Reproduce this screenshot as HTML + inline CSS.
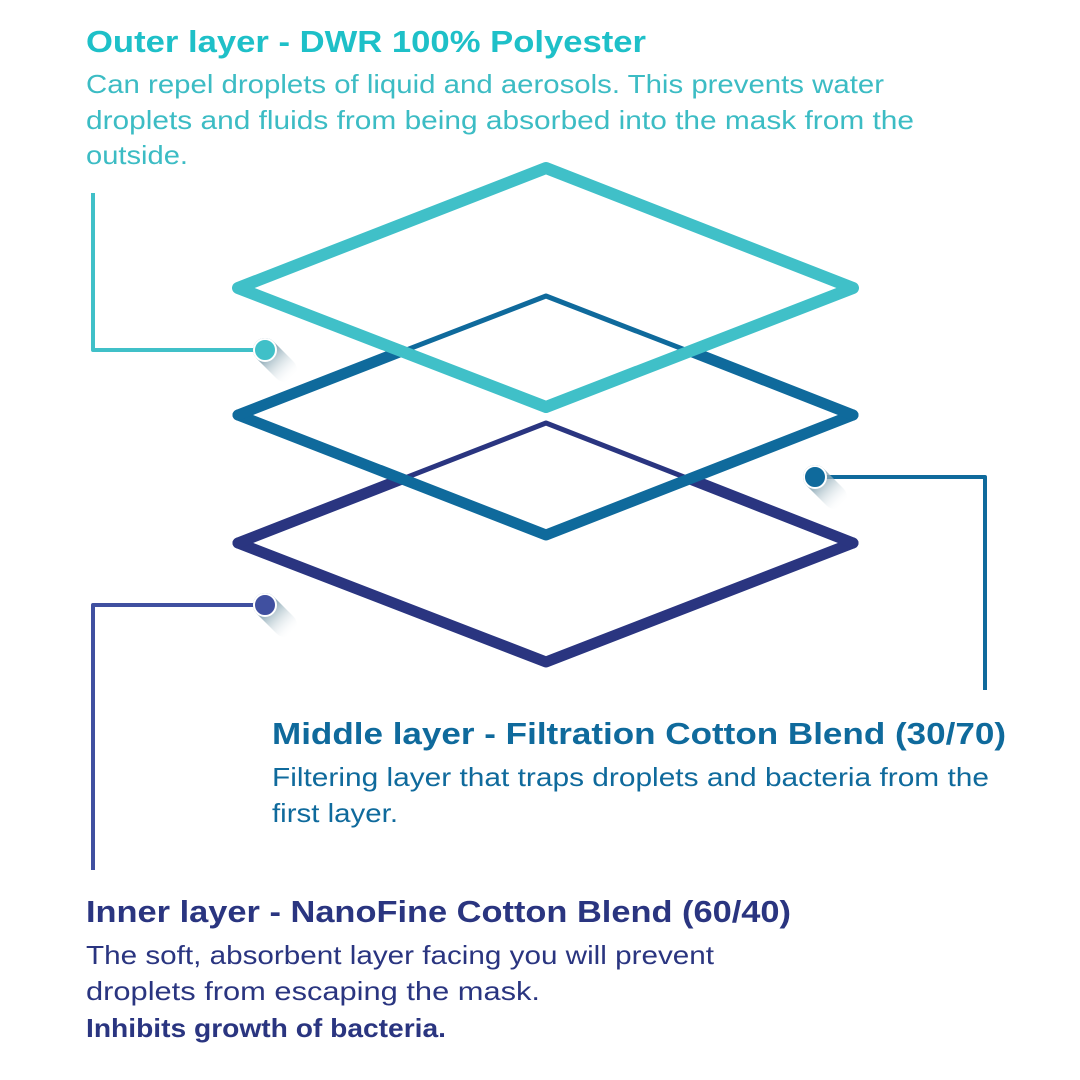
<!DOCTYPE html>
<html><head><meta charset="utf-8"><style>
html,body{margin:0;padding:0;background:#fff;}
svg{display:block;}
text{font-family:"Liberation Sans",sans-serif;}
.t{font-weight:bold;font-size:31px;}
.b{font-size:26px;}
</style></head><body>
<svg width="1080" height="1080" viewBox="0 0 1080 1080" xmlns="http://www.w3.org/2000/svg">
<defs>
<linearGradient id="sh" gradientUnits="userSpaceOnUse" x1="0" y1="0" x2="28" y2="28">
<stop offset="0" stop-color="#6f93a3" stop-opacity="1"/>
<stop offset="1" stop-color="#ffffff" stop-opacity="0"/>
</linearGradient>
</defs>
<g fill="none" stroke-linecap="round" stroke-linejoin="round">
<path d="M238,543 L546,662 L853,543" stroke="#2a3580" stroke-width="11"/>
<path d="M238,543 L546,423 L853,543" stroke="#2a3580" stroke-width="5"/>
<path d="M238,543 L402,479 M690,479 L853,543" stroke="#2a3580" stroke-width="11"/>
<path d="M238,415 L546,535 L853,415" stroke="#0f6a9c" stroke-width="11"/>
<path d="M238,415 L546,296 L853,415" stroke="#0f6a9c" stroke-width="5"/>
<path d="M238,415 L402,351 M690,351 L853,415" stroke="#0f6a9c" stroke-width="11"/>
<path d="M238,288 L546,168 L853,288 L546,407 Z" stroke="#40c0c8" stroke-width="12"/>
<path d="M93,193 L93,350 L265,350" stroke="#40c0c8" stroke-width="4" stroke-linecap="butt"/>
<path d="M815,477 L985,477 L985,690" stroke="#0f6a9c" stroke-width="4" stroke-linecap="butt"/>
<path d="M265,605 L93,605 L93,870" stroke="#4050a0" stroke-width="4" stroke-linecap="butt"/>
</g>
<g fill="none" stroke-linecap="round">
<path transform="translate(265,350)" d="M0,0 L20,20" stroke="url(#sh)" stroke-width="24"/>
<path transform="translate(815,477)" d="M0,0 L20,20" stroke="url(#sh)" stroke-width="24"/>
<path transform="translate(265,605)" d="M0,0 L20,20" stroke="url(#sh)" stroke-width="24"/>
</g>
<circle cx="265" cy="350" r="11" fill="#40c0c8" stroke="#fff" stroke-width="2"/>
<circle cx="815" cy="477" r="11" fill="#0f6a9c" stroke="#fff" stroke-width="2"/>
<circle cx="265" cy="605" r="11" fill="#4050a0" stroke="#fff" stroke-width="2"/>

<g fill="#1ec0c8">
<text class="t" x="86" y="52" textLength="560" lengthAdjust="spacingAndGlyphs">Outer layer - DWR 100% Polyester</text>
</g>
<g fill="#3cbcc4">
<text class="b" x="86" y="93" textLength="798" lengthAdjust="spacingAndGlyphs">Can repel droplets of liquid and aerosols. This prevents water</text>
<text class="b" x="86" y="129" textLength="828" lengthAdjust="spacingAndGlyphs">droplets and fluids from being absorbed into the mask from the</text>
<text class="b" x="86" y="164" textLength="102" lengthAdjust="spacingAndGlyphs">outside.</text>
</g>
<g fill="#0f6a9c">
<text class="t" x="272" y="744" textLength="734" lengthAdjust="spacingAndGlyphs">Middle layer -  Filtration Cotton Blend (30/70)</text>
<text class="b" x="272" y="786" textLength="717" lengthAdjust="spacingAndGlyphs">Filtering layer that traps droplets and bacteria from the</text>
<text class="b" x="272" y="822" textLength="126" lengthAdjust="spacingAndGlyphs">first layer.</text>
</g>
<g fill="#2a3580">
<text class="t" x="86" y="922" textLength="705" lengthAdjust="spacingAndGlyphs">Inner layer - NanoFine Cotton Blend (60/40)</text>
<text class="b" x="86" y="964" textLength="628" lengthAdjust="spacingAndGlyphs">The soft, absorbent layer facing you will prevent</text>
<text class="b" x="86" y="1000" textLength="454" lengthAdjust="spacingAndGlyphs">droplets from escaping the mask.</text>
<text class="b" x="86" y="1037" font-weight="bold" textLength="360" lengthAdjust="spacingAndGlyphs">Inhibits growth of bacteria.</text>
</g>
</svg>
</body></html>
